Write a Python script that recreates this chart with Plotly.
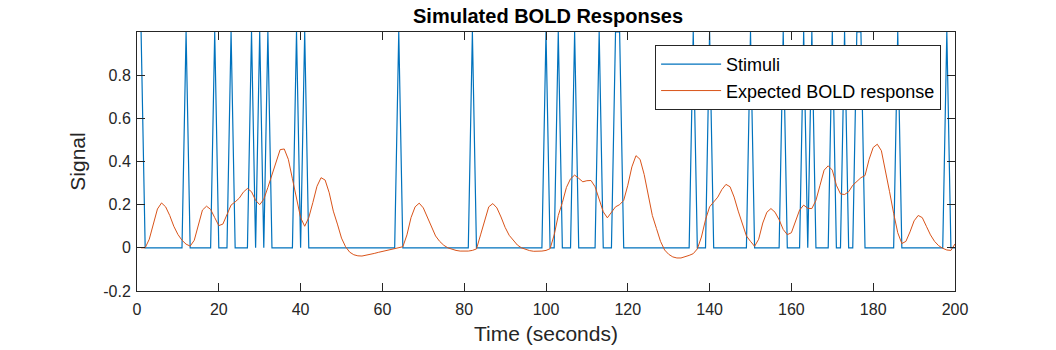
import plotly.graph_objects as go

# time axis (seconds)
time_s = list(range(1, 201))

# seconds where a stimulus occurred (value 1), otherwise 0
stim_times = [1, 12, 19, 23, 28, 30, 32, 39, 41, 64, 82, 100, 103, 107, 113,
              117, 118, 136, 140, 150, 158, 163, 165, 170, 173, 176, 177,
              186, 198]
stimuli = [1 if t in stim_times else 0 for t in time_s]

# expected BOLD response, one value per second
bold = [
    0.0, 0.0, 0.04, 0.11, 0.18, 0.208, 0.19, 0.15, 0.10, 0.062,
    0.035, 0.017, 0.008, 0.035, 0.11, 0.175, 0.193, 0.178, 0.14, 0.103,
    0.11, 0.15, 0.198, 0.213, 0.23, 0.258, 0.275, 0.26, 0.22, 0.2,
    0.225, 0.28, 0.34, 0.40, 0.455, 0.458, 0.41, 0.32, 0.225, 0.14,
    0.1, 0.14, 0.21, 0.285, 0.325, 0.314, 0.255, 0.17, 0.11, 0.045,
    0.005, -0.02, -0.032, -0.037, -0.038, -0.035, -0.031, -0.026, -0.021, -0.017,
    -0.012, -0.009, -0.005, -0.002, 0.005, 0.06, 0.14, 0.19, 0.207, 0.185,
    0.14, 0.093, 0.055, 0.03, 0.012, 0.0, -0.007, -0.012, -0.015, -0.016,
    -0.015, -0.012, -0.005, 0.06, 0.13, 0.19, 0.205, 0.185, 0.143, 0.095,
    0.058, 0.033, 0.013, 0.0, -0.008, -0.013, -0.016, -0.016, -0.015, -0.012,
    -0.004, 0.06, 0.15, 0.21, 0.28, 0.32, 0.337, 0.322, 0.306, 0.311,
    0.312, 0.283, 0.225, 0.167, 0.139, 0.163, 0.19, 0.2, 0.22, 0.29,
    0.375, 0.427, 0.41, 0.34, 0.24, 0.15, 0.09, 0.03, -0.01, -0.03,
    -0.042, -0.047, -0.047, -0.042, -0.035, -0.027, -0.005, 0.05, 0.13, 0.19,
    0.21, 0.235, 0.27, 0.294, 0.283, 0.235, 0.17, 0.11, 0.055, 0.03,
    0.007, 0.04, 0.115, 0.165, 0.182, 0.165, 0.13, 0.085, 0.061, 0.07,
    0.125, 0.175, 0.198, 0.183, 0.182, 0.22, 0.29, 0.36, 0.38, 0.36,
    0.29, 0.25, 0.247, 0.26, 0.29, 0.31, 0.325, 0.335, 0.41, 0.465,
    0.48, 0.45, 0.36, 0.26, 0.16, 0.07, 0.02, 0.03, 0.074, 0.125,
    0.15, 0.14, 0.1, 0.06, 0.03, 0.01, -0.002, -0.01, -0.012, 0.018,
]

x_ticks = list(range(0, 201, 20))
y_ticks = [-0.2, 0, 0.2, 0.4, 0.6, 0.8]
y_tick_text = ['-0.2', '0', '0.2', '0.4', '0.6', '0.8']

font_name = 'Liberation Sans, Arial, sans-serif'

fig = go.Figure()
fig.add_trace(go.Scatter(x=time_s, y=stimuli, mode='lines', name='Stimuli',
                         line=dict(color='#0072BD', width=1.2)))
fig.add_trace(go.Scatter(x=time_s, y=bold, mode='lines',
                         name='Expected BOLD response',
                         line=dict(color='#D95319', width=1)))

axis_common = dict(showgrid=False, zeroline=False, showline=True,
                   linecolor='#262626', linewidth=1, mirror='ticks',
                   ticks='inside', ticklen=8, tickcolor='#262626',
                   automargin=False,
                   tickfont=dict(family=font_name, size=16, color='#262626'))

fig.update_layout(
    width=1056, height=350,
    paper_bgcolor='white', plot_bgcolor='white',
    margin=dict(l=137, r=101, t=32, b=59),
    title=dict(text='<b>Simulated BOLD Responses</b>', x=0.519, xanchor='center',
               y=0.955, yanchor='middle',
               font=dict(family=font_name, size=20, color='black')),
    xaxis=dict(range=[0, 200], tickvals=x_ticks, ticklabelstandoff=4,
               title=dict(text='Time (seconds)', standoff=9,
                          font=dict(family=font_name, size=21, color='#262626')),
               **axis_common),
    yaxis=dict(range=[-0.2, 1.0], tickvals=y_ticks, ticktext=y_tick_text,
               ticklabelstandoff=2,
               title=dict(text='Signal', standoff=11,
                          font=dict(family=font_name, size=21, color='#262626')),
               **axis_common),
    legend=dict(x=0.983, y=0.95, xanchor='right', yanchor='top',
                bgcolor='white', bordercolor='#262626', borderwidth=1,
                font=dict(family=font_name, size=18, color='black'),
                itemwidth=60, tracegroupgap=0),
    showlegend=True,
)

# drop the default 8px page margin so the figure fills the window exactly
fig.write_html("out.html", config={'displayModeBar': False},
               post_script="document.body.style.margin = '0';")
